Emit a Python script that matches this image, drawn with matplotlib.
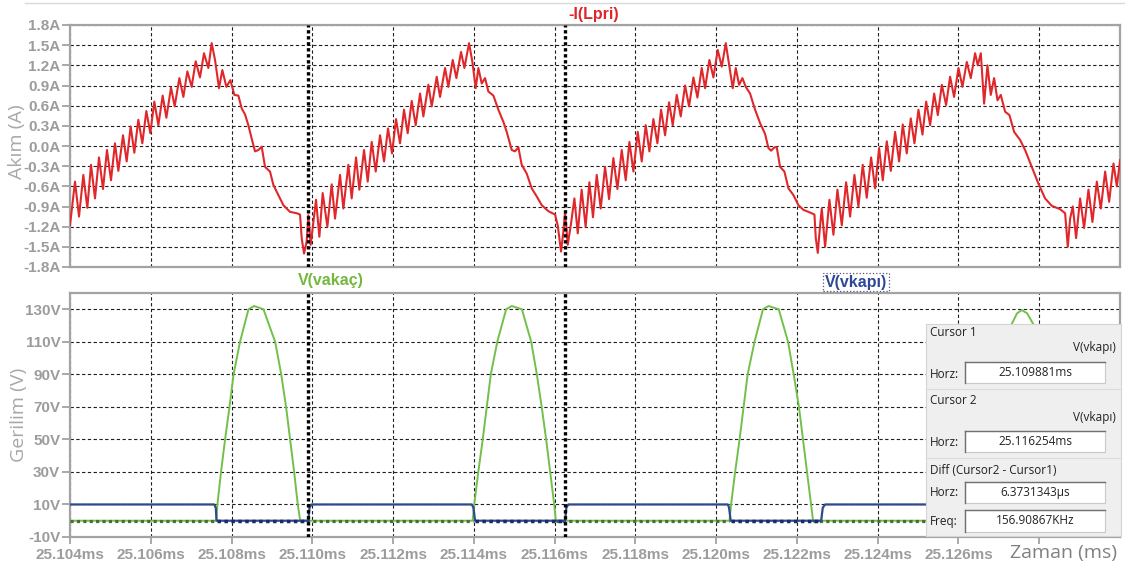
import numpy as np
import matplotlib
matplotlib.use("Agg")
import matplotlib.pyplot as plt
from matplotlib.lines import Line2D
from matplotlib.patches import Rectangle

# ---------------- data ----------------
t0_ms = 25.104  # left edge of the time window

# -I(Lpri): time offset in microseconds from t0, current in A
current_t_us = [
    0.000, 0.124, 0.223, 0.330, 0.429, 0.520, 0.619, 0.718, 0.817, 0.916,
    1.015, 1.114, 1.197, 1.313, 1.403, 1.502, 1.593, 1.692, 1.791, 1.890,
    1.989, 2.088, 2.188, 2.295, 2.386, 2.501, 2.592, 2.708, 2.807, 2.906,
    3.013, 3.112, 3.219, 3.318, 3.426, 3.508, 3.591, 3.690, 3.772, 3.872,
    3.971, 4.070, 4.169, 4.251, 4.334, 4.416, 4.499, 4.581, 4.664, 4.747,
    4.829, 4.953, 5.036, 5.159, 5.283, 5.448, 5.613, 5.696, 5.737, 5.795,
    5.861, 5.902, 5.960, 6.026, 6.092, 6.175, 6.257, 6.373, 6.480, 6.563,
    6.686, 6.769, 6.893, 6.975, 7.083, 7.165, 7.281, 7.372, 7.471, 7.570,
    7.677, 7.776, 7.875, 7.974, 8.073, 8.172, 8.271, 8.362, 8.461, 8.560,
    8.668, 8.750, 8.874, 8.957, 9.081, 9.163, 9.287, 9.369, 9.477, 9.567,
    9.683, 9.766, 9.881, 9.964, 10.046, 10.112, 10.195, 10.277, 10.360, 10.484,
    10.607, 10.731, 10.814, 10.938, 11.020, 11.103, 11.185, 11.309, 11.433, 11.557,
    11.681, 11.846, 12.011, 12.077, 12.159, 12.217, 12.259, 12.325, 12.407, 12.490,
    12.573, 12.669, 12.768, 12.861, 12.950, 13.043, 13.142, 13.249, 13.348, 13.455,
    13.555, 13.662, 13.761, 13.852, 13.951, 14.058, 14.157, 14.256, 14.347, 14.446,
    14.545, 14.636, 14.735, 14.834, 14.925, 15.024, 15.123, 15.230, 15.329, 15.437,
    15.536, 15.643, 15.726, 15.833, 15.932, 16.039, 16.139, 16.238, 16.328, 16.411,
    16.485, 16.568, 16.650, 16.733, 16.840, 16.964, 17.088, 17.211, 17.294, 17.360,
    17.443, 17.501, 17.583, 17.690, 17.790, 17.913, 18.037, 18.161, 18.326, 18.434,
    18.467, 18.516, 18.574, 18.615, 18.698, 18.805, 18.904, 19.003, 19.111, 19.218,
    19.317, 19.424, 19.523, 19.630, 19.729, 19.837, 19.936, 20.035, 20.126, 20.225,
    20.324, 20.431, 20.530, 20.621, 20.720, 20.819, 20.910, 21.009, 21.109, 21.200,
    21.299, 21.398, 21.489, 21.588, 21.694, 21.793, 21.892, 22.000, 22.099, 22.206,
    22.305, 22.412, 22.478, 22.553, 22.635, 22.718, 22.800, 22.883, 22.966, 23.048,
    23.155, 23.262, 23.378, 23.527, 23.650, 23.816, 23.980, 24.145, 24.311, 24.517,
    24.641, 24.707, 24.765, 24.831, 24.913, 25.012, 25.111, 25.219, 25.318, 25.426,
    25.525, 25.632, 25.731, 25.839, 25.921, 26.004,
]
current_a = [
    -1.18, -0.53, -1.05, -0.43, -0.92, -0.28, -0.78, -0.17, -0.64, -0.06,
    -0.51, 0.04, -0.37, 0.16, -0.23, 0.29, -0.10, 0.39, 0.04, 0.52,
    0.19, 0.66, 0.31, 0.75, 0.42, 0.87, 0.59, 1.01, 0.73, 1.11,
    0.88, 1.26, 1.02, 1.38, 1.16, 1.53, 1.28, 0.86, 1.13, 0.88,
    0.98, 0.76, 0.75, 0.56, 0.47, 0.31, 0.11, -0.08, -0.06, -0.01,
    -0.31, -0.38, -0.58, -0.73, -0.88, -0.98, -1.00, -1.02, -1.37, -1.60,
    -1.42, -1.03, -1.47, -1.13, -0.80, -1.35, -0.70, -1.20, -0.57, -1.08,
    -0.43, -0.93, -0.28, -0.78, -0.17, -0.65, -0.06, -0.53, 0.06, -0.38,
    0.16, -0.23, 0.26, -0.11, 0.40, 0.04, 0.54, 0.19, 0.67, 0.31,
    0.78, 0.44, 0.91, 0.59, 1.03, 0.73, 1.16, 0.88, 1.28, 1.01,
    1.40, 1.16, 1.53, 1.25, 0.86, 1.16, 0.93, 1.01, 0.81, 0.75,
    0.54, 0.36, 0.21, -0.06, -0.08, -0.02, -0.28, -0.41, -0.63, -0.75,
    -0.88, -0.97, -1.02, -1.18, -1.57, -1.27, -0.98, -1.47, -1.15, -0.78,
    -1.30, -0.65, -1.20, -0.54, -1.06, -0.43, -0.93, -0.31, -0.79, -0.18,
    -0.64, -0.06, -0.51, 0.06, -0.38, 0.21, -0.23, 0.31, -0.08, 0.40,
    0.04, 0.54, 0.16, 0.65, 0.31, 0.76, 0.44, 0.90, 0.59, 1.02,
    0.72, 1.16, 0.86, 1.28, 1.02, 1.43, 1.18, 1.53, 1.18, 0.86,
    1.16, 0.91, 1.01, 0.88, 0.78, 0.54, 0.34, 0.18, -0.03, -0.07,
    -0.02, -0.02, -0.31, -0.38, -0.63, -0.73, -0.88, -0.95, -0.99, -1.02,
    -1.37, -1.59, -1.18, -0.93, -1.50, -0.80, -1.32, -0.65, -1.18, -0.54,
    -1.05, -0.43, -0.90, -0.28, -0.77, -0.17, -0.63, -0.03, -0.51, 0.07,
    -0.37, 0.21, -0.23, 0.32, -0.11, 0.41, 0.04, 0.54, 0.17, 0.66,
    0.31, 0.78, 0.46, 0.91, 0.61, 1.03, 0.73, 1.16, 0.88, 1.25,
    1.01, 1.38, 1.20, 1.38, 0.63, 1.20, 0.76, 1.01, 0.68, 0.76,
    0.51, 0.46, 0.21, 0.09, -0.06, -0.31, -0.56, -0.78, -0.89, -0.94,
    -1.00, -1.50, -1.08, -0.90, -1.37, -0.78, -1.22, -0.65, -1.13, -0.53,
    -0.93, -0.38, -0.83, -0.26, -0.60, -0.21,
]

# V(vakaç): drain voltage, microseconds from t0 and volts
drain_t_us = [
    0.0, 3.62, 3.65, 3.74, 3.84, 3.95, 4.05, 4.21, 4.42, 4.56, 4.79, 5.08, 5.23, 5.35, 5.45, 5.55, 5.64, 5.70,
    9.97, 10.01, 10.11, 10.22, 10.32, 10.42, 10.58, 10.80, 10.94, 11.19, 11.42, 11.56, 11.68, 11.79, 11.89, 11.99, 12.03,
    16.33, 16.37, 16.47, 16.58, 16.68, 16.78, 16.95, 17.16, 17.30, 17.55, 17.78, 17.92, 18.05, 18.15, 18.25, 18.35, 18.40,
    22.62, 22.66, 22.76, 22.86, 22.96, 23.06, 23.22, 23.32, 23.45, 23.57, 23.70, 23.85, 24.02, 24.17, 24.30, 24.40, 24.50,
    24.60, 24.65, 26.0,
]
drain_v = [
    0, 0, 10, 30, 50, 70, 90, 110, 130, 132, 130, 110, 90, 70, 50, 30, 10, 0,
    0, 10, 30, 50, 70, 90, 110, 130, 132, 130, 110, 90, 70, 50, 30, 10, 0,
    0, 10, 30, 50, 70, 90, 110, 130, 132, 130, 110, 90, 70, 50, 30, 10, 0,
    0, 10, 30, 50, 70, 90, 110, 121, 127.5, 129.5, 127.5, 121, 110, 90, 70, 50, 30,
    10, 0, 0,
]

# V(vkapı): gate voltage
gate_t_us = [0.0, 3.57, 3.61, 3.63, 5.90, 5.93, 5.98, 9.95, 9.99, 10.03, 12.26, 12.29,
             12.34, 16.29, 16.32, 16.36, 18.60, 18.64, 18.70, 22.66, 22.69, 22.72, 26.0]
gate_v = [10, 10, 8, 0, 0, 8, 10, 10, 8, 0, 0, 8, 10, 10, 8, 0, 0, 8, 10, 10, 8, 0, 0]

cursor_ms = [25.109881, 25.116254]

x_ticks_ms = [25.104, 25.106, 25.108, 25.110, 25.112, 25.114, 25.116, 25.118,
              25.120, 25.122, 25.124, 25.126, 25.128]
x_tick_labels = ["25.104ms", "25.106ms", "25.108ms", "25.110ms", "25.112ms", "25.114ms",
                 "25.116ms", "25.118ms", "25.120ms", "25.122ms", "25.124ms", "25.126ms", ""]
i_ticks = [-1.8, -1.5, -1.2, -0.9, -0.6, -0.3, 0.0, 0.3, 0.6, 0.9, 1.2, 1.5, 1.8]
i_tick_labels = ["-1.8A", "-1.5A", "-1.2A", "-0.9A", "-0.6A", "-0.3A", "0.0A",
                 "0.3A", "0.6A", "0.9A", "1.2A", "1.5A", "1.8A"]
v_ticks = [-10, 10, 30, 50, 70, 90, 110, 130]
v_tick_labels = ["-10V", "10V", "30V", "50V", "70V", "90V", "110V", "130V"]

legend_rows = [("Cursor 1", "V(vkapı)", "25.109881ms"),
               ("Cursor 2", "V(vkapı)", "25.116254ms")]
diff_title = "Diff (Cursor2 - Cursor1)"
diff_horz = "6.3731343µs"
diff_freq = "156.90867KHz"

# ---------------- figure ----------------
W, H = 1125, 567
fig = plt.figure(figsize=(W / 100, H / 100), dpi=100)
fig.patch.set_facecolor("white")


def fx(px):
    return px / W


def fy(py):
    return 1 - py / H


ax1 = fig.add_axes([fx(70), fy(267), fx(1050), 242 / H])
ax2 = fig.add_axes([fx(70), fy(537), fx(1050), 244 / H])

t_cur = t0_ms + np.array(current_t_us) / 1000.0
t_drain = t0_ms + np.array(drain_t_us) / 1000.0
t_gate = t0_ms + np.array(gate_t_us) / 1000.0
drain_arr = np.array(drain_v, dtype=float)
gate_arr = np.array(gate_v, dtype=float)

TICK_GREY = "#9c9c9c"
FRAME_GREY = "#a3a3a3"
grid_kw = dict(color="#1e1e1e", linewidth=0.8, linestyle=(0, (3.0, 2.2)))

for ax in (ax1, ax2):
    ax.set_xlim(25.104, 25.130)
    ax.set_xticks(x_ticks_ms)
    ax.grid(True, **grid_kw)
    ax.set_axisbelow(True)
    for s in ax.spines.values():
        s.set_color(FRAME_GREY)
        s.set_linewidth(1.6)
    ax.tick_params(axis="y", direction="out", length=6, width=1.3, color=FRAME_GREY,
                   labelcolor=TICK_GREY, labelsize=11, pad=1)
    for c in cursor_ms:
        ax.axvline(c, color="black", lw=2.4, linestyle=(0, (1, 0.8)), zorder=6)

# top panel
ax1.plot(t_cur, current_a, color="#e0282c", lw=1.5, zorder=3)
ax1.set_ylim(-1.8, 1.8)
ax1.set_yticks(i_ticks, i_tick_labels, fontweight="bold", fontfamily="Liberation Sans")
ax1.tick_params(axis="x", length=0, labelbottom=False)

# bottom panel
ax2.plot(t_drain, drain_arr, color="#72c04a", lw=1.4, zorder=3)
ax2.plot(t_drain, np.where(drain_arr < 1, drain_arr, np.nan), color="#4b6b3b", lw=2.3,
         linestyle=(0, (1, 1)), zorder=3.5)
ax2.plot(t_gate, gate_arr, color="#2d4a8c", lw=1.6, zorder=4)
ax2.plot(t_gate, np.where(gate_arr < 1, gate_arr, np.nan), color="#1c2a66", lw=2.5,
         linestyle=(0, (1, 1)), zorder=4.5)
ax2.set_ylim(-10, 140)
ax2.set_yticks(v_ticks, v_tick_labels, fontweight="bold", fontfamily="Liberation Sans")
ax2.set_xticks(x_ticks_ms, x_tick_labels, fontweight="bold", fontfamily="Liberation Sans")
ax2.tick_params(axis="x", direction="out", length=5, width=1.3, color=FRAME_GREY,
                labelcolor=TICK_GREY, labelsize=11, pad=3)

# trace titles
fig.text(fx(594), fy(15), "-I(Lpri)", color="#e0262a", fontsize=11.5, fontweight="bold",
         fontfamily="Liberation Sans", ha="center", va="center")
fig.text(fx(331), fy(281), "V(vakaç)", color="#74b83e", fontsize=11.5, fontweight="bold",
         fontfamily="Liberation Sans", ha="center", va="center")
fig.text(fx(856), fy(282), "V(vkapı)", color="#2e4796", fontsize=11.5, fontweight="bold",
         fontfamily="Liberation Sans", ha="center", va="center",
         bbox=dict(boxstyle="square,pad=0.12", fc="none", ec="#555577", ls=":", lw=0.9))

# axis labels
fig.text(fx(17), fy(142), "Akım (A)", color="#a8a8a8", fontsize=14, fontfamily="Open Sans",
         rotation=90, ha="center", va="center")
fig.text(fx(19), fy(415), "Gerilim (V)", color="#a8a8a8", fontsize=14, fontfamily="Open Sans",
         rotation=90, ha="center", va="center")
fig.text(fx(1063), fy(553), "Zaman (ms)", color="#808080", fontsize=14, fontfamily="Open Sans",
         ha="center", va="center")

# window edge line at top
fig.add_artist(Line2D([fx(25), 1.0], [fy(3), fy(3)], color="#dadada", lw=1))

# cursor readout panel
lx0, ly0, lw_, lh_ = 926, 324, 195, 212
lax = fig.add_axes([fx(lx0), fy(ly0 + lh_), fx(lw_), lh_ / H])
lax.set_xlim(0, lw_)
lax.set_ylim(lh_, 0)
lax.set_facecolor("#efefef")
lax.set_xticks([])
lax.set_yticks([])
for s in lax.spines.values():
    s.set_color("#d4d4d4")
    s.set_linewidth(0.8)

txt_kw = dict(fontsize=8.5, fontfamily="Open Sans", color="#222222", va="center")


def value_box(y_top, y_bot, text):
    lax.add_patch(Rectangle((39, y_top), 140, y_bot - y_top, fc="white", ec="#c8c8c8", lw=0.8))
    lax.plot([39, 179], [y_top, y_top], color="#707070", lw=1.0)
    lax.plot([39, 39], [y_top, y_bot], color="#707070", lw=1.0)
    lax.text(109, (y_top + y_bot) / 2, text, ha="center", **txt_kw)


row_y = [0, 69]
for (title, trace, val), dy in zip(legend_rows, row_y):
    lax.text(4, 8 + dy, title, ha="left", **txt_kw)
    lax.text(190, 24 + dy, trace, ha="right", **txt_kw)
    lax.text(4, 50 + dy, "Horz:", ha="left", **txt_kw)
    value_box(38 + dy, 59 + dy, val)
    lax.plot([0, lw_], [65 + dy, 65 + dy], color="#dcdcdc", lw=0.8)

lax.text(4, 146, diff_title, ha="left", **txt_kw)
lax.text(4, 169, "Horz:", ha="left", **txt_kw)
value_box(158, 179, diff_horz)
lax.text(4, 198, "Freq:", ha="left", **txt_kw)
value_box(186, 208, diff_freq)

fig.savefig("out.png", dpi=100, facecolor="white")
